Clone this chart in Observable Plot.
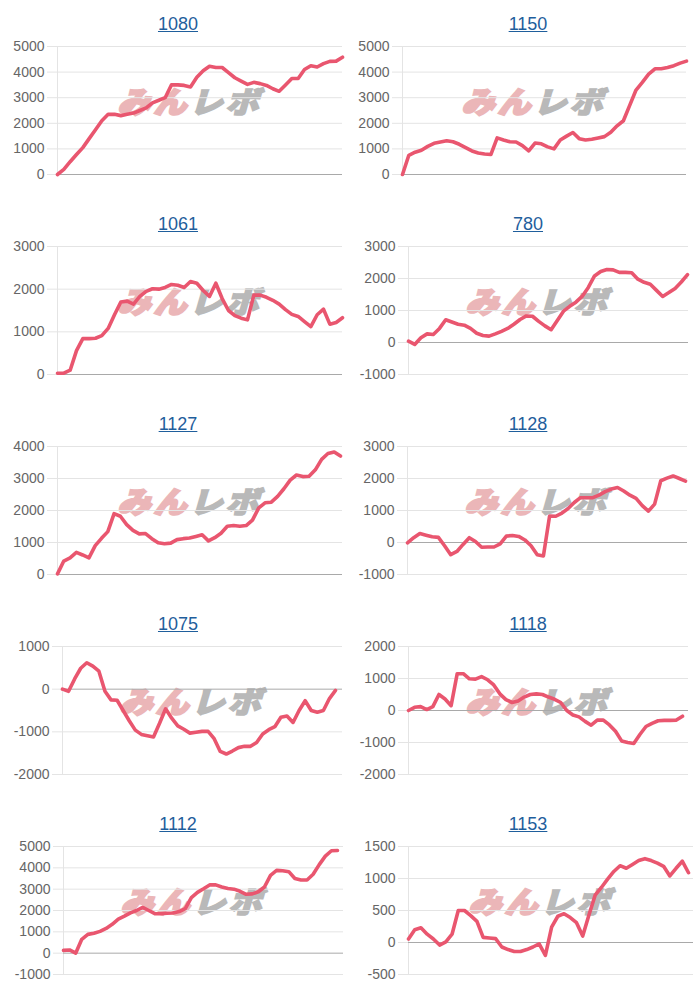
<!DOCTYPE html>
<html>
<head>
<meta charset="utf-8">
<script src="https://cdn.jsdelivr.net/npm/d3@7"></script>
<script src="https://cdn.jsdelivr.net/npm/@observablehq/plot@0.6"></script>
<style>
body{margin:0;background:#fff;font-family:"Liberation Sans",Arial,sans-serif;}
#grid{display:grid;grid-template-columns:350px 350px;width:700px;}
.cell{position:relative;width:350px;height:200px;overflow:hidden;}
.title{position:absolute;top:12px;left:3px;width:350px;text-align:center;font-size:18px;line-height:24px;z-index:2;}
.title a{color:#1f5e9c;text-decoration:underline;}
.wm{position:absolute;top:101px;transform:translate(-50%,-50%) skewX(-16deg) scaleY(0.9);font-family:"Noto Sans CJK JP",sans-serif;font-weight:900;font-size:33px;letter-spacing:3px;white-space:nowrap;z-index:0;line-height:1;}
.wm .a{color:#ebb6b8;-webkit-text-stroke:2.5px #ebb6b8;}
.wm .b{color:#b9b9b9;-webkit-text-stroke:2px #b9b9b9;}
.cell svg{position:absolute;top:0;left:0;z-index:1;}
</style>
</head>
<body>
<div id="grid"></div>
<script>
// Titles of the ten panels
const names = ["1080", "1150", "1061", "780", "1127", "1128", "1075", "1118", "1112", "1153"];

// Series values (evenly spaced points)
const v1080 = [0,200,500,780,1050,1400,1750,2100,2350,2350,2300,2350,2400,2500,2600,2800,2900,3000,3500,3500,3480,3420,3800,4050,4230,4180,4180,3980,3780,3650,3520,3600,3550,3480,3350,3250,3500,3750,3750,4100,4250,4200,4330,4420,4430,4580];
const v1150 = [0,750,870,950,1100,1220,1270,1320,1280,1180,1050,920,840,800,780,1430,1350,1280,1270,1130,920,1230,1200,1080,1000,1350,1500,1640,1400,1350,1380,1430,1480,1650,1900,2100,2700,3300,3600,3920,4130,4130,4180,4250,4350,4430];
const v1061 = [30,30,100,560,840,840,850,910,1080,1400,1700,1720,1650,1830,1950,2010,2000,2040,2110,2090,2040,2180,2140,1970,1830,2140,1780,1500,1380,1320,1280,1860,1860,1810,1740,1650,1520,1410,1360,1240,1120,1400,1530,1180,1220,1330];
const v780 = [40,-60,150,270,250,440,710,640,570,540,440,290,220,200,270,350,440,570,720,830,820,660,520,400,690,980,1130,1260,1440,1720,2080,2220,2280,2270,2190,2190,2180,1980,1880,1820,1630,1440,1560,1690,1890,2120];
const v1127 = [20,420,520,690,610,520,900,1130,1340,1900,1820,1560,1380,1270,1280,1120,990,960,980,1090,1120,1140,1190,1240,1050,1150,1290,1510,1530,1510,1530,1700,2080,2240,2260,2440,2680,2950,3110,3060,3070,3270,3600,3780,3830,3700];
const v1128 = [-10,150,280,230,180,160,-100,-380,-280,-60,150,30,-150,-140,-140,-40,200,220,190,80,-100,-380,-420,830,820,920,1060,1250,1400,1400,1400,1480,1590,1670,1720,1610,1480,1380,1150,980,1200,1930,2010,2080,2000,1920];
const v1075 = [0,-50,240,490,620,540,420,-50,-250,-260,-500,-740,-960,-1060,-1090,-1120,-800,-460,-680,-860,-940,-1030,-1010,-990,-990,-1160,-1460,-1520,-1450,-1370,-1340,-1340,-1250,-1050,-950,-880,-660,-630,-780,-500,-270,-500,-540,-500,-220,-30];
const v1118 = [0,100,120,30,120,500,360,150,1150,1150,990,980,1060,960,800,520,340,250,300,420,500,520,500,420,350,250,0,-140,-200,-340,-460,-300,-300,-450,-650,-950,-1000,-1030,-750,-500,-400,-320,-310,-310,-300,-180];
const v1112 = [130,150,0,650,880,930,1020,1160,1350,1600,1740,1890,2000,2150,2000,1850,1850,1870,1880,1950,2090,2600,2850,3020,3200,3200,3100,3030,3000,2900,2760,2780,2880,3100,3650,3880,3860,3820,3500,3430,3430,3700,4150,4550,4800,4810];
const v1153 = [55,200,230,130,55,-40,10,130,500,500,420,330,80,70,60,-70,-110,-140,-140,-110,-70,-20,-200,240,410,450,390,310,100,430,740,860,990,1110,1200,1160,1220,1280,1310,1280,1240,1190,1040,1160,1270,1090];

// Y tick labels per panel
const t1080 = [0,1000,2000,3000,4000,5000];
const t1150 = [0,1000,2000,3000,4000,5000];
const t1061 = [0,1000,2000,3000];
const t780  = [-1000,0,1000,2000,3000];
const t1127 = [0,1000,2000,3000,4000];
const t1128 = [-1000,0,1000,2000,3000];
const t1075 = [-2000,-1000,0,1000];
const t1118 = [-2000,-1000,0,1000,2000];
const t1112 = [-1000,0,1000,2000,3000,4000,5000];
const t1153 = [-500,0,500,1000,1500];

const seriesList = [v1080, v1150, v1061, v780, v1127, v1128, v1075, v1118, v1112, v1153];
const tickList = [t1080, t1150, t1061, t780, t1127, t1128, t1075, t1118, t1112, t1153];

// Layout (frame margins and line end gap, px)
const layout = [
  {ml:57, mr:8,  pad:0},
  {ml:52, mr:14, pad:0},
  {ml:57, mr:8,  pad:0},
  {ml:58, mr:12, pad:1},
  {ml:57, mr:8,  pad:2},
  {ml:57, mr:13, pad:2},
  {ml:62, mr:8,  pad:7},
  {ml:58, mr:12, pad:6},
  {ml:63, mr:7,  pad:6},
  {ml:58, mr:7,  pad:5}
];

const grid = document.getElementById("grid");
const W = 350, H = 200;

names.forEach((name, k) => {
  const L = layout[k];
  const values = seriesList[k];
  const ticks = tickList[k];
  const n = values.length;
  const data = values.map((v, i) => ({i, v}));

  const cell = document.createElement("div");
  cell.className = "cell";

  const title = document.createElement("div");
  title.className = "title";
  const a = document.createElement("a");
  a.href = "#";
  a.textContent = name;
  title.appendChild(a);
  cell.appendChild(title);

  const wm = document.createElement("div");
  wm.className = "wm";
  wm.style.left = (L.ml + (W - L.ml - L.mr) / 2 - 7) + "px";
  wm.innerHTML = '<span class="a">みん</span><span class="b">レボ</span>';
  cell.appendChild(wm);

  const chart = Plot.plot({
    width: W,
    height: H,
    marginTop: 46,
    marginBottom: 26,
    marginLeft: L.ml,
    marginRight: L.mr,
    style: {background: "transparent", fontFamily: "'Liberation Sans', Arial, sans-serif", fontSize: "14px", color: "#666"},
    x: {axis: null, domain: [0, n - 1], range: [L.ml, W - L.mr - L.pad]},
    y: {domain: [d3.min(ticks), d3.max(ticks)], ticks: ticks, tickFormat: d => String(d), tickSize: 10, tickPadding: 3, label: null},
    marks: [
      Plot.ruleY(ticks.filter(t => t !== 0), {stroke: "#e4e4e4"}),
      Plot.ruleX([0], {stroke: "#e4e4e4"}),
      ticks.includes(0) ? Plot.ruleY([0], {stroke: "#a9a9a9"}) : null,
      Plot.line(data, {x: "i", y: "v", stroke: "#e9566f", strokeWidth: 3.6, strokeLinejoin: "round", strokeLinecap: "round"})
    ]
  });
  chart.querySelectorAll('[aria-label="y-axis tick"]').forEach(g => g.setAttribute("stroke", "#e4e4e4"));
  cell.appendChild(chart);
  grid.appendChild(cell);
});
</script>
</body>
</html>
